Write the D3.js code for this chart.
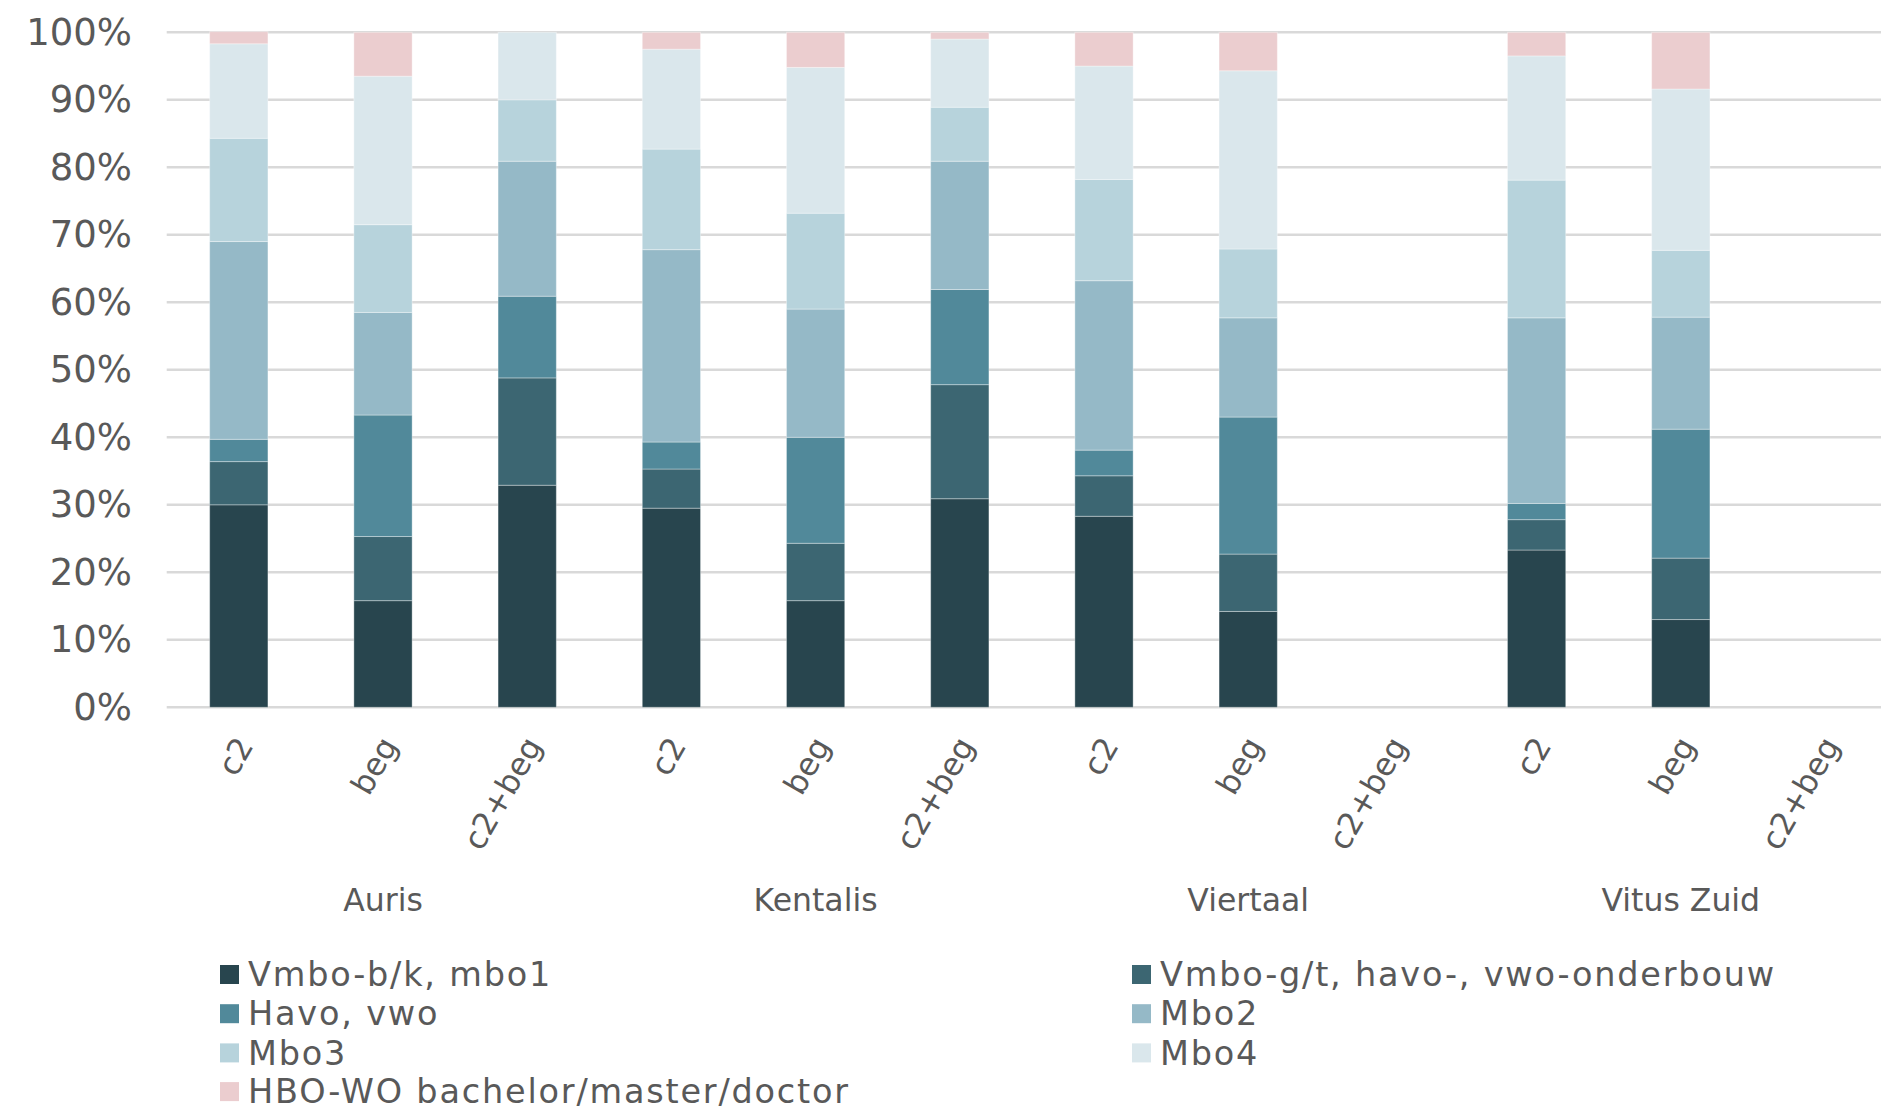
<!DOCTYPE html>
<html>
<head>
<meta charset="utf-8">
<script src="https://cdn.jsdelivr.net/npm/d3@7"></script>
<style>
  html, body { margin: 0; padding: 0; background: #ffffff; }
  svg { display: block; }
  text { font-family: "DejaVu Sans", Verdana, sans-serif; fill: #595959; }
</style>
</head>
<body>
<svg id="chart" width="1881" height="1112"></svg>
<script>
// ---- data ----
const groups = ["Auris", "Kentalis", "Viertaal", "Vitus Zuid"];
const subcats = ["c2", "beg", "c2+beg"];
const seriesNames = [
  "Vmbo-b/k, mbo1",
  "Vmbo-g/t, havo-, vwo-onderbouw",
  "Havo, vwo",
  "Mbo2",
  "Mbo3",
  "Mbo4",
  "HBO-WO bachelor/master/doctor"
];
// values per bar (order: Auris c2, beg, c2+beg, Kentalis ..., Viertaal ..., Vitus Zuid ...), in %
const vmboBK = [30.0, 15.8, 32.9, 29.5, 15.8, 30.9, 28.3, 14.2, null, 23.3, 13.0, null];
const vmboGT = [6.4, 9.5, 15.9, 5.8, 8.5, 16.9, 6.0, 8.5, null, 4.5, 9.1, null];
const havoVwo = [3.3, 18.0, 12.1, 4.0, 15.7, 14.1, 3.8, 20.3, null, 2.4, 19.1, null];
const mbo2 = [29.3, 15.2, 20.0, 28.5, 19.0, 19.0, 25.1, 14.7, null, 27.5, 16.6, null];
const mbo3 = [15.3, 13.0, 9.1, 14.9, 14.2, 8.0, 15.0, 10.2, null, 20.4, 9.9, null];
const mbo4 = [14.0, 22.0, 10.0, 14.8, 21.6, 10.1, 16.8, 26.4, null, 18.4, 23.9, null];
const hboWo = [1.8, 6.5, 0.0, 2.5, 5.2, 1.0, 5.0, 5.7, null, 3.5, 8.4, null];
const yTicks = [0, 10, 20, 30, 40, 50, 60, 70, 80, 90, 100];

const colors = ["#28454e", "#3c6672", "#51899a", "#95b9c7", "#b7d3dc", "#dae7ec", "#ebcdcf"];
const seriesValues = [vmboBK, vmboGT, havoVwo, mbo2, mbo3, mbo4, hboWo];

// ---- build table ----
const rows = [];
groups.forEach((g, gi) => subcats.forEach((s, si) => {
  const i = gi * subcats.length + si;
  const r = { key: g + "|" + s, group: g, sub: s };
  seriesNames.forEach((n, k) => { r[n] = seriesValues[k][i] == null ? 0 : seriesValues[k][i]; });
  rows.push(r);
}));

const svg = d3.select("#chart");
const x0 = 166.7, step = 144.2;
const x = d3.scaleBand()
  .domain(rows.map(d => d.key))
  .range([x0, x0 + step * rows.length])
  .paddingInner(0.596)
  .paddingOuter(0.298);
const y = d3.scaleLinear().domain([0, 100]).range([707.3, 32.3]);

// gridlines
svg.append("g").selectAll("line").data(yTicks).join("line")
  .attr("x1", x0).attr("x2", 1881)
  .attr("y1", d => y(d)).attr("y2", d => y(d))
  .attr("stroke", "#d9d9d9").attr("stroke-width", 2.5);

// y axis labels
const yAxis = d3.axisLeft(y).tickValues(yTicks).tickFormat(d => d + "%").tickSize(0).tickPadding(0);
const yg = svg.append("g").attr("transform", "translate(132,0)").call(yAxis);
yg.select(".domain").remove();
yg.selectAll("text").attr("font-size", 37).attr("fill", "#595959")
  .style("font-family", "'DejaVu Sans', Verdana, sans-serif");

// stacked bars
const stack = d3.stack().keys(seriesNames);
const stacked = stack(rows);
svg.append("g").selectAll("g").data(stacked).join("g")
  .attr("fill", (d, i) => colors[i])
  .selectAll("rect").data(d => d.filter(p => p[1] - p[0] > 0)).join("rect")
  .attr("x", d => x(d.data.key))
  .attr("width", x.bandwidth())
  .attr("y", d => y(d[1]))
  .attr("height", d => y(d[0]) - y(d[1]))
  .attr("stroke", "#ffffff").attr("stroke-opacity", 0.35).attr("stroke-width", 1);

// x category labels (rotated)
svg.append("g").selectAll("text").data(rows).join("text")
  .attr("transform", d => `translate(${x(d.key) + x.bandwidth() / 2 + 6},740) rotate(-60)`)
  .attr("text-anchor", "end")
  .attr("dy", "0.35em")
  .attr("font-size", 31.5)
  .text(d => d.sub);

// group labels
svg.append("g").selectAll("text").data(groups).join("text")
  .attr("x", g => x(g + "|" + subcats[1]) + x.bandwidth() / 2)
  .attr("y", 900)
  .attr("dy", "0.35em")
  .attr("text-anchor", "middle")
  .attr("font-size", 31.5)
  .text(g => g);

// legend
const legendCols = [220, 1132];
const legendRows = [974.5, 1013.7, 1052.9, 1091.6];
const lg = svg.append("g").selectAll("g").data(seriesNames).join("g")
  .attr("transform", (d, i) => `translate(${legendCols[i % 2]},${legendRows[Math.floor(i / 2)]})`);
lg.append("rect").attr("x", 0).attr("y", -9.5).attr("width", 19).attr("height", 19)
  .attr("fill", (d, i) => colors[i]);
lg.append("text").attr("x", 28).attr("dy", "0.35em")
  .attr("font-size", 33.5).attr("letter-spacing", "1.8px").text(d => d);
</script>
</body>
</html>
